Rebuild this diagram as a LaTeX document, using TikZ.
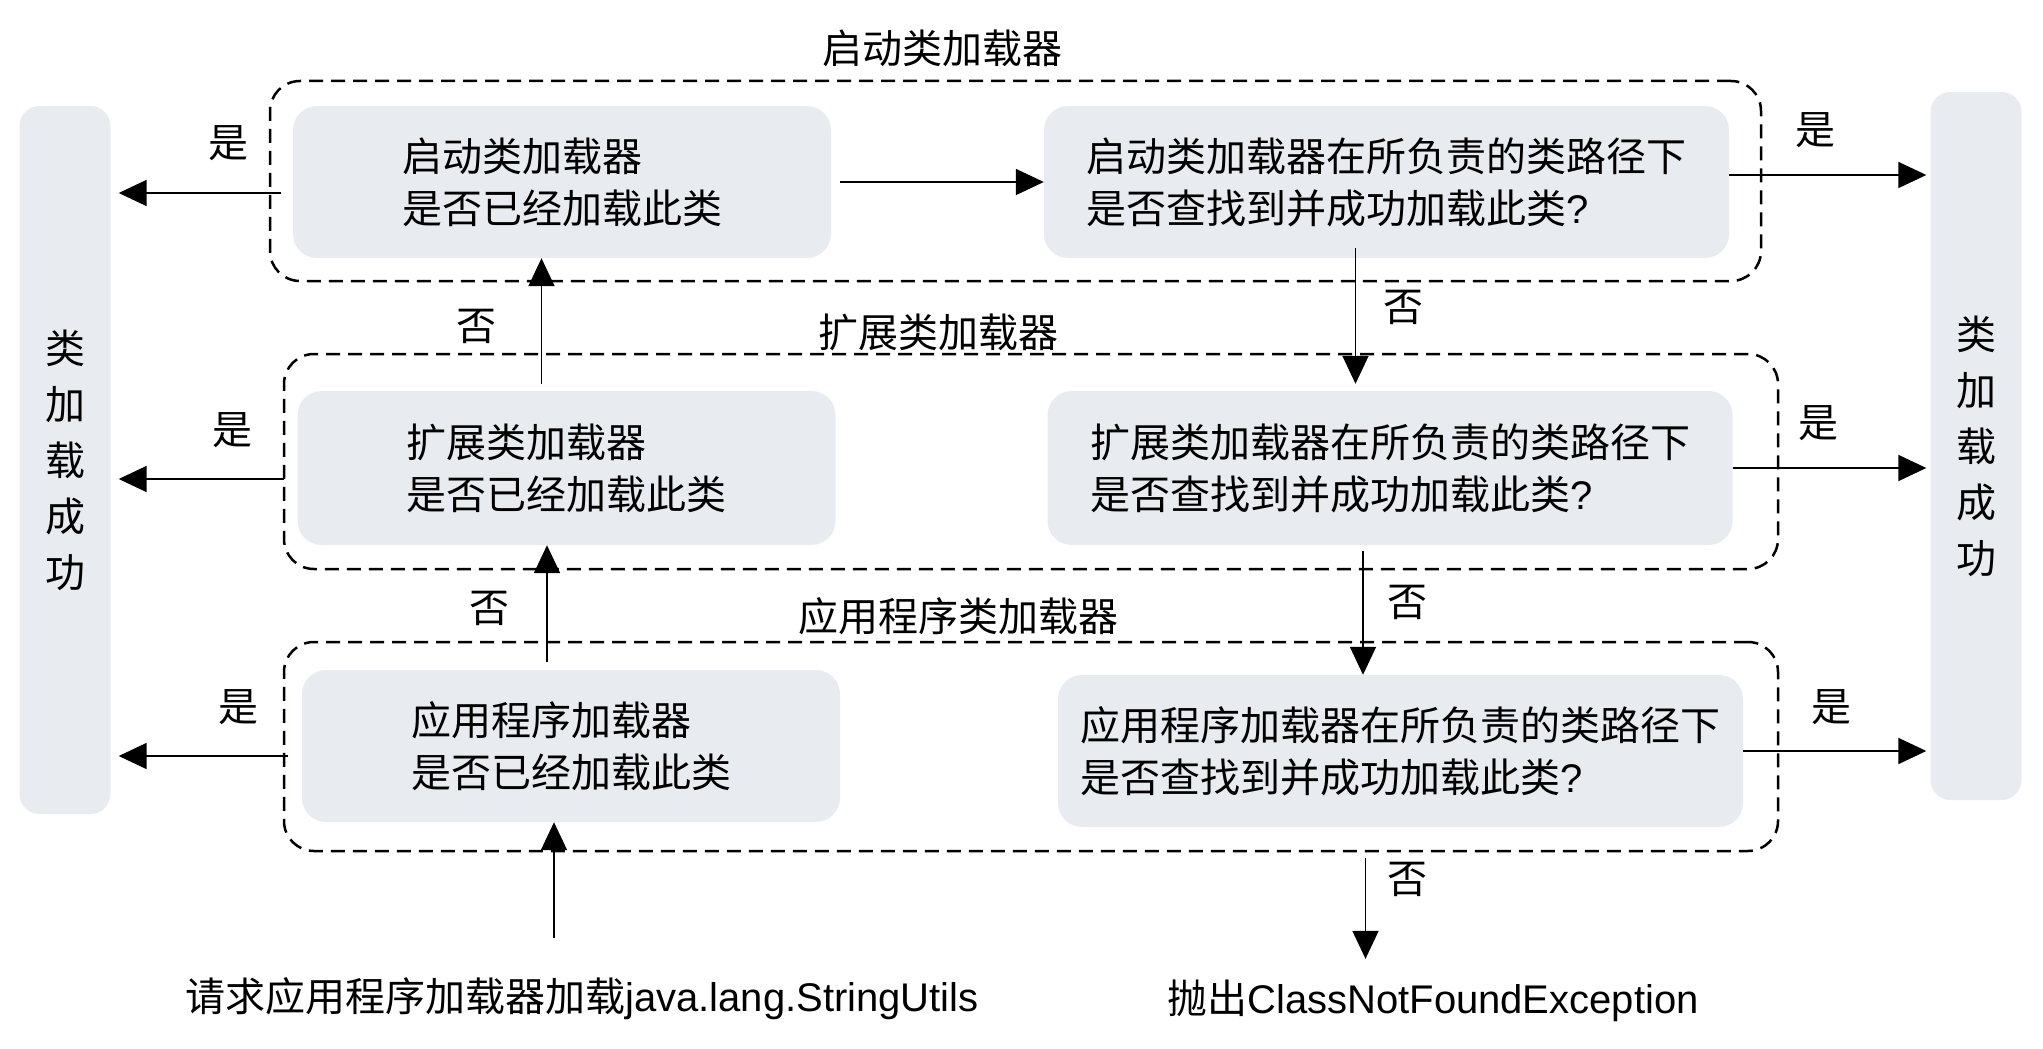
\documentclass[tikz,border=0pt]{standalone}
\usepackage{fontspec}
\setmainfont{Noto Sans CJK SC}
\newfontfamily\latfont{Liberation Sans}
\usepackage{tikz}
\usetikzlibrary{arrows.meta}
\definecolor{boxgray}{RGB}{232,235,239}

\begin{document}
\begin{tikzpicture}[x = 1pt, y = -1pt,
        every node/.style = {font = \fontsize{40}{52}\selectfont, inner sep = 0pt},
        frame/.style = {draw, line width = 2.5pt, dash pattern = on 14pt off 8pt, rounded corners = 30pt},
        askbox/.style = {fill = boxgray, rounded corners = 24pt, minimum height = 152pt, align = left},
        local/.style = {askbox, minimum width = 538pt},
        find/.style = {askbox, minimum width = 685pt},
        pillar/.style = {fill = boxgray, rounded corners = 20pt, minimum width = 91pt, minimum height = 708pt,
                         align = center, font = \fontsize{40}{56}\selectfont},
        arr/.style = {line width = 1.8pt, -{Triangle[length = 28pt, width = 26pt]}}]
    \useasboundingbox (0, 0) rectangle (2043, 1049);

    % frames of the three loaders
    \node [frame, minimum width = 1491pt, minimum height = 200pt] (bootFrame) at (1015.5, 181) {};
    \node [frame, minimum width = 1494pt, minimum height = 215pt] (extFrame) at (1031, 461.5) {};
    \node [frame, minimum width = 1494pt, minimum height = 209pt] (appFrame) at (1031, 746.5) {};
    \node (bootTitle) at (942, 48) {启动类加载器};
    \node (extTitle) at (938, 332) {扩展类加载器};
    \node (appTitle) at (958, 616) {应用程序类加载器};

    % questions
    \node [local] (bootLocal) at (562, 182) {启动类加载器\\是否已经加载此类};
    \node [find] (bootFind) at (1386.5, 182) {启动类加载器在所负责的类路径下\\是否查找到并成功加载此类{\latfont ?}};
    \node [local, minimum height = 154pt] (extLocal) at (566.5, 468) {扩展类加载器\\是否已经加载此类};
    \node [find, minimum height = 154pt] (extFind) at (1390, 468) {扩展类加载器在所负责的类路径下\\是否查找到并成功加载此类{\latfont ?}};
    \node [local] (appLocal) at (571, 746) {应用程序加载器\\是否已经加载此类};
    \node [find] (appFind) at (1400.5, 751) {应用程序加载器在所负责的类路径下\\是否查找到并成功加载此类{\latfont ?}};

    \node [pillar] (okLeft) at (65, 460) {类\\加\\载\\成\\功};
    \node [pillar] (okRight) at (1976, 446) {类\\加\\载\\成\\功};

    \node (request) at (582, 999) {请求应用程序加载器加载{\latfont java.lang.StringUtils}};
    \node (throw) at (1433, 1001) {抛出{\latfont ClassNotFoundException}};

    % already loaded -> left
    \draw [arr, shorten <= 12pt, shorten >= 8pt] ([yshift = -11pt]bootLocal.west) -- ([yshift = -11pt]bootLocal.west -| okLeft.east);
    \draw [arr, shorten <= 13pt, shorten >= 8pt] ([yshift = -11pt]extLocal.west) -- ([yshift = -11pt]extLocal.west -| okLeft.east);
    \draw [arr, shorten <= 14pt, shorten >= 8pt] ([yshift = -10pt]appLocal.west) -- ([yshift = -10pt]appLocal.west -| okLeft.east);
    \node (yesBootL) at (228, 143) {是};
    \node (yesExtL) at (232, 430) {是};
    \node (yesAppL) at (238, 707) {是};

    % not loaded -> up to the parent
    \draw [arr, shorten <= 40pt] ([xshift = -17pt]appLocal.south |- request.north) -- ([xshift = -17pt]appLocal.south);
    \draw [arr, shorten <= 8pt] ([xshift = -24pt]appLocal.north) -- ([xshift = -24pt]appLocal.north |- extLocal.south);
    \draw [arr, shorten <= 7pt] ([xshift = -25pt]extLocal.north) -- ([xshift = -25pt]extLocal.north |- bootLocal.south);
    \node (noApp) at (489, 608) {否};
    \node (noExt) at (476, 326) {否};

    % boot loader searches first
    \draw [arr, shorten <= 9pt] (bootLocal) -- (bootFind);

    % found -> right
    \draw [arr, shorten >= 4pt] ([yshift = 7pt]bootFind.east) -- ([yshift = 7pt]bootFind.east -| okRight.west);
    \draw [arr, shorten >= 4pt] (extFind.east) -- (extFind.east -| okRight.west);
    \draw [arr, shorten >= 4pt] (appFind.east) -- (appFind.east -| okRight.west);
    \node (yesBootR) at (1815, 130) {是};
    \node (yesExtR) at (1818, 423) {是};
    \node (yesAppR) at (1831, 707) {是};

    % not found -> down to the child
    \draw [arr, shorten >= 7pt] ([shift = {(-31pt, 10pt)}]bootFind.south) -- ([xshift = -31pt]bootFind.south |- extFind.north);
    \draw [arr] ([shift = {(-27pt, -6pt)}]extFind.south) -- ([xshift = -27pt]extFind.south |- appFind.north);
    \draw [arr, shorten >= 21pt] ([shift = {(-35pt, -31pt)}]appFind.south) -- ([xshift = -35pt]appFind.south |- throw.north);
    \node (noBoot) at (1403, 307) {否};
    \node (noExtF) at (1407, 602) {否};
    \node (noAppF) at (1407, 879) {否};
\end{tikzpicture}
\end{document}
